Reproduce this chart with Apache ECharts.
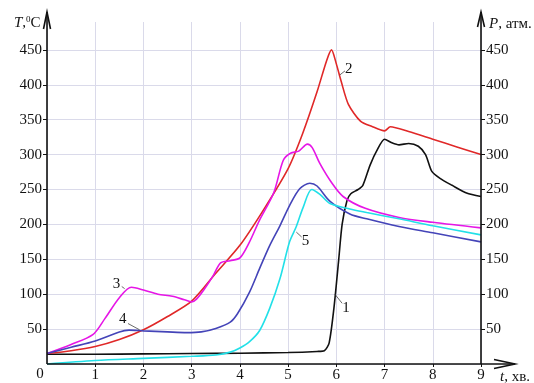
<!DOCTYPE html>
<html><head><meta charset="utf-8">
<script src="https://cdn.jsdelivr.net/npm/echarts@6/dist/echarts.min.js"></script>
<style>html,body{margin:0;padding:0;background:#fff}#c{width:534px;height:383px}</style>
</head><body><div id="c"></div>
<script>
// t, хв. (x) / T,°C and P, атм. (y)
const xTicks = [0,1,2,3,4,5,6,7,8,9];
const yTicks = [0,50,100,150,200,250,300,350,400,450];

const curve1 = [[0,14],[1,14],[2,14.5],[3,15],[4,15.5],[5,16.5],[5.6,18],[5.75,19],[5.85,30],[5.95,80],[6.05,150],[6.12,200],[6.22,234],[6.3,244],[6.45,250],[6.55,256],[6.7,285],[6.85,307],[7.0,322],[7.15,317],[7.3,314],[7.5,316],[7.7,312],[7.85,300],[7.98,276],[8.15,266],[8.4,256],[8.7,245],[9,240]];
const curve2 = [[0,15],[0.5,19],[1,25],[1.5,35],[2,49],[2.5,68],[3,90],[3.5,130],[4,170],[4.5,222],[5,280],[5.3,330],[5.6,390],[5.8,435],[5.9,450],[6.0,430],[6.1,405],[6.25,372],[6.5,348],[6.75,340],[7.0,334],[7.12,340],[7.5,333],[8,322],[8.5,311],[9,300]];
const curve3 = [[0,15],[0.5,28],[0.95,42],[1.2,65],[1.5,95],[1.75,110],[2.0,106],[2.3,100],[2.6,97],[2.85,92],[3.0,89],[3.1,93],[3.25,106],[3.45,127],[3.6,145],[3.8,148],[4.0,152],[4.2,175],[4.4,205],[4.7,245],[4.9,292],[5.05,302],[5.22,305],[5.4,315],[5.5,310],[5.66,287],[5.9,260],[6.14,240],[6.6,223],[7.3,210],[8,203],[9,195]];
const curve4 = [[0,15],[0.5,24],[1,33],[1.5,46],[1.7,48.5],[2,47.5],[2.5,46],[2.9,45],[3.2,46],[3.5,51],[3.8,60],[3.95,72],[4.2,103],[4.41,137],[4.62,170],[4.83,198],[5.03,227],[5.24,251],[5.45,259],[5.6,255],[5.87,233],[6.28,215],[6.63,208],[7.3,197],[8,188],[9,175]];
const curve5 = [[0,0],[1,5],[2,8],[3,11],[3.5,13],[3.8,17],[4.0,23],[4.2,32],[4.41,48],[4.62,80],[4.83,122],[5.03,175],[5.17,197],[5.31,224],[5.49,250],[5.66,243],[5.87,230],[6.28,222],[6.63,217],[7.3,208],[8,198],[9,185]];

// curve number annotations: [name, label position, leader start, leader end]
const annot1 = ['1', [6.2,80], [5.97,100], [6.12,87]];
const annot2 = ['2', [6.26,423], [6.07,414], [6.18,420]];
const annot3 = ['3', [1.44,115], [1.55,111], [1.61,108]];
const annot4 = ['4', [1.57,64], [1.68,58], [1.92,49]];
const annot5 = ['5', [5.36,176], [5.17,189], [5.28,182]];

const serif = '"Liberation Serif", "DejaVu Serif", serif';
const chart = echarts.init(document.getElementById('c'), null, {renderer:'canvas'});

function mkSeries(data, color, ann, smooth){
  return {
    type:'line', data:data, showSymbol:false, symbol:'none', smooth:smooth,
    lineStyle:{color:color, width:1.6}, itemStyle:{color:color},
    animation:false, z:3,
    markPoint:{
      symbol:'circle', symbolSize:1, silent:true, animation:false,
      itemStyle:{color:'rgba(0,0,0,0)'},
      label:{show:true, position:'inside', formatter:ann[0], color:'#111', fontFamily:serif, fontSize:15},
      data:[{coord:ann[1], value:ann[0]}]
    },
    markLine:{
      symbol:['none','none'], silent:true, animation:false,
      lineStyle:{color:'#444', width:0.8, type:'solid'},
      label:{show:false},
      data:[[{coord:ann[2]},{coord:ann[3]}]]
    }
  };
}

const gridColor = '#dadaea';
const yCommon = {
  type:'value', min:0, max:490, interval:50,
  axisLine:{show:false},
  axisTick:{show:true, length:4, lineStyle:{color:'#111'}},
  axisLabel:{showMinLabel:false, showMaxLabel:false, color:'#111', fontFamily:serif, fontSize:15, margin:5,
    formatter:v => v>450 ? '' : String(v)}
};

chart.setOption({
  backgroundColor:'#fff',
  animation:false,
  grid:{left:47, right:53, top:22, bottom:17, containLabel:false},
  xAxis:{
    type:'value', min:0, max:9, interval:1,
    axisLine:{show:false},
    axisTick:{show:true, length:3, lineStyle:{color:'#111'}},
    axisLabel:{showMinLabel:false, color:'#111', fontFamily:serif, fontSize:15, margin:4},
    splitLine:{show:true, lineStyle:{color:gridColor, width:1}}
  },
  yAxis:[
    Object.assign({}, yCommon, {position:'left', splitLine:{show:true, showMaxLine:false, lineStyle:{color:gridColor, width:1}}}),
    Object.assign({}, yCommon, {position:'right', splitLine:{show:false}})
  ],
  series:[
    mkSeries(curve1, '#111111', annot1, 0.25),
    mkSeries(curve2, '#e02828', annot2, 0.25),
    mkSeries(curve3, '#e616e6', annot3, 0.3),
    mkSeries(curve4, '#4444b8', annot4, 0.3),
    mkSeries(curve5, '#22e0e8', annot5, 0.3)
  ]
});

// axes with arrows and axis captions
const o = chart.convertToPixel({gridIndex:0}, [0,0]);
const e = chart.convertToPixel({gridIndex:0}, [9,450]);
const topY = 12, rightX = 515;
const ax = {stroke:'#111', lineWidth:1.6};
chart.setOption({graphic:[
  {type:'line', shape:{x1:o[0], y1:o[1], x2:rightX, y2:o[1]}, style:ax, z:10},
  {type:'line', shape:{x1:o[0], y1:o[1], x2:o[0], y2:topY}, style:ax, z:10},
  {type:'line', shape:{x1:e[0], y1:o[1], x2:e[0], y2:topY}, style:ax, z:10},
  {type:'polyline', shape:{points:[[o[0]-3.5,topY+17],[o[0],topY],[o[0]+3.5,topY+17]]}, style:{stroke:'#111', lineWidth:1.6, fill:null}, z:10},
  {type:'polyline', shape:{points:[[e[0]-3.5,topY+15],[e[0],topY],[e[0]+3.5,topY+15]]}, style:{stroke:'#111', lineWidth:1.6, fill:null}, z:10},
  {type:'polyline', shape:{points:[[rightX-21,o[1]-4.5],[rightX,o[1]],[rightX-21,o[1]+4.5]]}, style:{stroke:'#111', lineWidth:1.6, fill:null}, z:10},
  {type:'text', x:o[0]-7, y:o[1]+10, style:{text:'0', font:'15px '+serif, fill:'#111', align:'center', verticalAlign:'middle'}},
  {type:'text', x:14, y:23, style:{
     text:'{i|T},{s|0}C', verticalAlign:'middle',
     rich:{i:{fontFamily:serif, fontStyle:'italic', fontSize:15, fill:'#111'},
           s:{fontFamily:serif, fontSize:9, fill:'#111', verticalAlign:'top', padding:[0,0,6,0]}},
     font:'15px '+serif, fill:'#111'}},
  {type:'text', x:489, y:24, style:{
     text:'{i|P}, атм.', verticalAlign:'middle',
     rich:{i:{fontFamily:serif, fontStyle:'italic', fontSize:15, fill:'#111'}},
     font:'15px '+serif, fill:'#111'}},
  {type:'text', x:500, y:377, style:{
     text:'{i|t}, хв.', verticalAlign:'middle',
     rich:{i:{fontFamily:serif, fontStyle:'italic', fontSize:15, fill:'#111'}},
     font:'15px '+serif, fill:'#111'}}
]});
</script>
</body></html>
